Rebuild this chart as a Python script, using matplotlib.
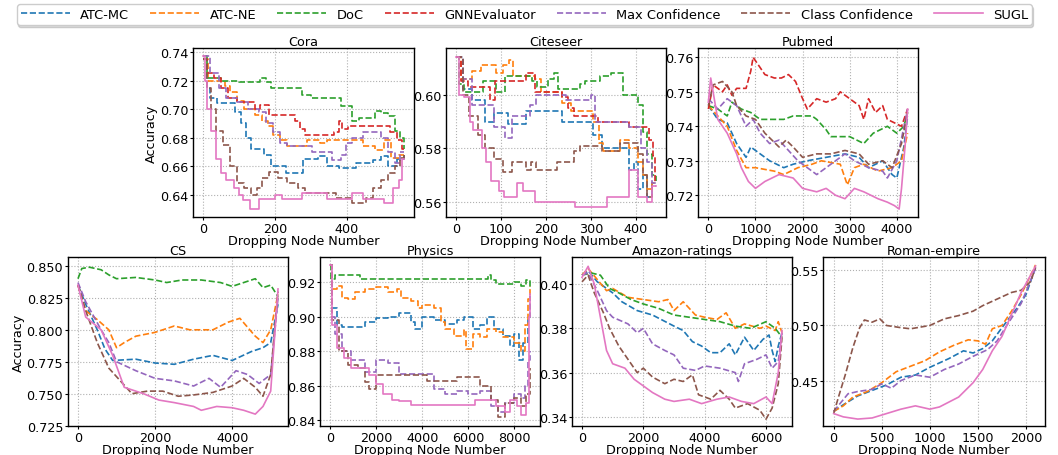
import matplotlib
matplotlib.use("Agg")
import matplotlib.pyplot as plt
from matplotlib.ticker import MultipleLocator

plt.rcParams['font.family'] = ['DejaVu Sans']

methods = ["ATC-MC", "ATC-NE", "DoC", "GNNEvaluator", "Max Confidence", "Class Confidence", "SUGL"]
colors = ["#1f77b4", "#ff7f0e", "#2ca02c", "#d62728", "#9467bd", "#8c564b", "#e377c2"]

# ---------------- Cora ----------------
cora_atc_mc = [(0, .735), (10, .715), (20, .708), (40, .704), (90, .698), (105, .690), (120, .680), (135, .672), (170, .668), (190, .660), (230, .655), (280, .665), (320, .667), (345, .660), (380, .659), (425, .662), (475, .664), (495, .667), (515, .660), (540, .665), (560, .668)]
cora_atc_ne = [(0, .735), (15, .720), (60, .716), (75, .712), (95, .706), (115, .700), (145, .696), (165, .692), (180, .688), (195, .682), (215, .678), (235, .674), (290, .678), (325, .676), (345, .678), (445, .674), (480, .671), (505, .678), (525, .666), (545, .668), (560, .668)]
cora_doc = [(0, .737), (10, .722), (50, .720), (100, .719), (160, .722), (175, .719), (190, .715), (275, .710), (300, .708), (385, .702), (415, .692), (435, .694), (480, .699), (495, .697), (515, .695), (535, .685), (550, .680), (560, .672)]
cora_gnn = [(0, .735), (10, .725), (30, .722), (50, .715), (70, .708), (95, .705), (145, .700), (160, .703), (185, .696), (255, .692), (270, .686), (285, .682), (365, .684), (378, .692), (388, .686), (405, .688), (520, .684), (540, .678), (555, .672), (560, .672)]
cora_max = [(0, .737), (20, .725), (45, .715), (65, .708), (95, .705), (125, .700), (155, .698), (175, .690), (195, .684), (215, .676), (235, .674), (305, .670), (360, .664), (385, .668), (398, .676), (415, .680), (445, .684), (495, .680), (515, .670), (535, .662), (550, .670), (560, .670)]
cora_class = [(0, .735), (12, .715), (22, .700), (35, .685), (55, .675), (75, .660), (95, .648), (115, .645), (135, .640), (150, .645), (165, .652), (185, .656), (210, .652), (235, .648), (265, .645), (285, .641), (370, .638), (415, .634), (455, .638), (475, .645), (495, .650), (515, .655), (535, .660), (550, .666), (560, .668)]
cora_sugl = [(0, .737), (5, .720), (12, .700), (22, .685), (35, .665), (50, .655), (65, .650), (85, .645), (100, .640), (110, .636), (130, .630), (155, .637), (200, .640), (220, .637), (275, .641), (345, .637), (415, .641), (445, .637), (505, .634), (530, .645), (545, .650), (555, .665), (560, .665)]

# ---------------- Citeseer ----------------
cite_atc_mc = [(0, .614), (15, .602), (35, .598), (65, .590), (85, .593), (115, .589), (155, .594), (235, .590), (305, .585), (325, .580), (385, .572), (395, .575), (405, .565), (415, .570), (425, .562), (435, .567), (445, .567)]
cite_atc_ne = [(0, .614), (12, .606), (35, .609), (55, .611), (90, .608), (105, .611), (118, .613), (128, .607), (175, .606), (190, .601), (235, .597), (255, .594), (305, .590), (318, .582), (328, .579), (365, .583), (385, .580), (405, .575), (415, .570), (425, .565), (435, .567), (445, .567)]
cite_doc = [(0, .614), (8, .604), (18, .601), (60, .605), (90, .601), (110, .607), (170, .605), (180, .603), (205, .606), (218, .608), (228, .602), (275, .604), (288, .605), (320, .607), (345, .608), (372, .600), (405, .596), (415, .586), (425, .578), (435, .570), (445, .568)]
cite_gnn = [(0, .614), (12, .605), (28, .603), (75, .598), (88, .605), (155, .608), (175, .601), (235, .599), (250, .595), (262, .592), (315, .590), (385, .588), (430, .583), (437, .577), (442, .567), (445, .567)]
cite_max = [(0, .614), (15, .606), (35, .596), (85, .588), (110, .584), (125, .592), (165, .596), (178, .600), (245, .598), (300, .600), (310, .590), (385, .588), (412, .580), (425, .575), (435, .567), (445, .567)]
cite_class = [(0, .614), (15, .600), (30, .592), (50, .585), (65, .580), (85, .576), (105, .571), (125, .575), (155, .572), (168, .575), (178, .572), (225, .575), (262, .579), (275, .581), (325, .579), (365, .582), (405, .578), (415, .570), (425, .562), (435, .566), (445, .566)]
cite_sugl = [(0, .614), (8, .600), (18, .599), (32, .590), (38, .587), (58, .580), (68, .575), (78, .568), (95, .564), (108, .562), (135, .567), (150, .564), (175, .560), (265, .558), (335, .562), (385, .572), (405, .562), (425, .560), (435, .566), (445, .566)]

# ---------------- Pubmed ----------------
pub_atc_mc = [(0, .746), (200, .742), (400, .741), (600, .735), (800, .731), (900, .734), (1100, .732), (1300, .730), (1600, .728), (1800, .729), (2100, .730), (2500, .731), (2900, .732), (3200, .731), (3400, .728), (3700, .730), (3900, .726), (4000, .725), (4150, .734), (4230, .743)]
pub_atc_ne = [(0, .746), (200, .743), (400, .740), (600, .733), (800, .728), (1000, .728), (1400, .727), (1600, .726), (1900, .728), (2200, .729), (2400, .730), (2800, .729), (2950, .723), (3100, .728), (3300, .729), (3600, .727), (3900, .728), (4100, .730), (4230, .738)]
pub_doc = [(0, .746), (200, .745), (400, .743), (500, .747), (700, .745), (900, .744), (1100, .742), (1600, .742), (1800, .743), (2200, .743), (2300, .742), (2500, .739), (2600, .737), (3000, .737), (3300, .735), (3500, .738), (3800, .740), (4000, .738), (4150, .740), (4230, .744)]
pub_gnn = [(0, .745), (100, .752), (300, .750), (400, .752), (500, .749), (600, .751), (800, .751), (900, .756), (950, .760), (1050, .758), (1200, .755), (1400, .754), (1550, .754), (1700, .755), (1850, .753), (2000, .748), (2100, .745), (2300, .748), (2500, .747), (2700, .748), (2800, .750), (3000, .748), (3200, .746), (3300, .742), (3400, .748), (3550, .744), (3700, .746), (3800, .742), (3950, .741), (4100, .740), (4230, .745)]
pub_max = [(0, .748), (200, .745), (400, .748), (600, .746), (800, .740), (950, .742), (1100, .738), (1300, .735), (1500, .736), (1700, .733), (1900, .730), (2100, .728), (2300, .726), (2500, .728), (2700, .730), (2900, .732), (3100, .730), (3400, .728), (3700, .727), (3800, .725), (4000, .730), (4230, .745)]
pub_class = [(0, .746), (100, .752), (300, .753), (500, .750), (600, .746), (800, .743), (1000, .742), (1200, .738), (1500, .734), (1650, .736), (1800, .734), (2000, .731), (2300, .732), (2600, .732), (2900, .733), (3200, .732), (3400, .729), (3700, .730), (3900, .728), (4100, .735), (4230, .744)]
pub_sugl = [(0, .747), (50, .754), (200, .742), (400, .738), (600, .732), (700, .728), (850, .724), (1000, .722), (1200, .724), (1500, .726), (1800, .725), (2000, .722), (2300, .721), (2500, .722), (2700, .720), (2900, .719), (3100, .722), (3300, .721), (3600, .719), (3800, .718), (3950, .717), (4050, .716), (4100, .722), (4180, .735), (4230, .745)]

# ---------------- CS ----------------
cs_atc_mc = [(0, .835), (200, .820), (500, .800), (700, .785), (900, .776), (1500, .777), (2000, .774), (2500, .773), (3000, .777), (3500, .780), (4000, .776), (4500, .783), (4800, .786), (5000, .790), (5190, .820)]
cs_atc_ne = [(0, .835), (200, .815), (500, .808), (800, .800), (1000, .786), (1200, .790), (1500, .795), (2000, .798), (2500, .803), (2900, .800), (3500, .800), (3900, .806), (4200, .809), (4600, .795), (4800, .790), (5000, .800), (5190, .828)]
cs_doc = [(0, .840), (100, .848), (300, .849), (600, .847), (800, .843), (1000, .840), (1500, .841), (2000, .839), (2300, .837), (2700, .839), (3200, .839), (3700, .837), (4000, .834), (4300, .837), (4600, .840), (4800, .833), (5000, .835), (5190, .826)]
cs_max = [(0, .837), (200, .822), (600, .800), (800, .790), (1000, .775), (1500, .768), (2000, .762), (2500, .760), (3000, .756), (3400, .762), (3700, .755), (4100, .768), (4400, .765), (4700, .758), (5000, .765), (5190, .825)]
cs_class = [(0, .835), (200, .815), (500, .790), (800, .770), (1100, .760), (1400, .750), (1800, .752), (2200, .752), (2600, .748), (3000, .749), (3500, .751), (4000, .756), (4300, .762), (4600, .755), (4800, .748), (5000, .765), (5190, .830)]
cs_sugl = [(0, .835), (200, .810), (600, .800), (900, .780), (1200, .755), (1700, .750), (2100, .745), (2500, .743), (3000, .740), (3200, .737), (3600, .740), (4000, .739), (4300, .737), (4600, .734), (4800, .740), (5000, .752), (5190, .832)]

# ---------------- Physics ----------------
phy_atc_mc = [(0, .930), (100, .905), (300, .895), (500, .894), (1200, .894), (1500, .897), (2000, .899), (2500, .900), (3000, .902), (3500, .897), (3700, .893), (4000, .900), (4500, .898), (5000, .896), (5500, .898), (5800, .900), (6200, .893), (6500, .895), (6800, .900), (7100, .893), (7500, .889), (7800, .883), (8000, .890), (8200, .875), (8400, .885), (8600, .900), (8683, .912)]
phy_atc_ne = [(0, .930), (100, .916), (300, .918), (500, .911), (800, .910), (1100, .914), (1500, .916), (2000, .917), (2500, .914), (2900, .916), (3100, .911), (3500, .909), (3800, .905), (4000, .907), (4500, .905), (4800, .897), (5000, .893), (5400, .889), (5800, .892), (5900, .881), (6200, .890), (6500, .888), (6800, .893), (7200, .891), (7500, .888), (8000, .885), (8300, .880), (8450, .895), (8600, .910), (8683, .918)]
phy_doc = [(0, .930), (50, .922), (200, .924), (1200, .924), (1300, .922), (6800, .922), (6850, .924), (7000, .921), (7200, .919), (7800, .919), (8000, .920), (8300, .918), (8500, .921), (8683, .917)]
phy_max = [(0, .930), (100, .900), (200, .890), (500, .880), (900, .875), (1500, .868), (2000, .875), (2500, .873), (3000, .867), (4000, .867), (4500, .858), (5000, .855), (5500, .857), (6000, .855), (6500, .857), (7000, .848), (7300, .845), (7600, .850), (8000, .855), (8300, .853), (8450, .860), (8600, .875), (8683, .880)]
phy_class = [(0, .930), (100, .898), (400, .880), (800, .872), (1200, .870), (1500, .862), (1700, .858), (2000, .866), (4000, .866), (4200, .863), (5000, .863), (5500, .865), (6000, .865), (6500, .860), (7000, .852), (7300, .842), (7600, .850), (8000, .853), (8300, .848), (8500, .855), (8683, .870)]
phy_sugl = [(0, .930), (100, .895), (300, .882), (600, .876), (900, .870), (1200, .870), (1700, .866), (2000, .861), (2300, .855), (2700, .852), (3000, .851), (3500, .849), (6000, .849), (6300, .852), (7000, .852), (7200, .848), (7600, .845), (7800, .852), (8100, .848), (8300, .843), (8500, .850), (8620, .900), (8683, .913)]

# ---------------- Amazon-ratings ----------------
ama_atc_mc = [(0, .404), (200, .406), (500, .401), (1000, .396), (1300, .392), (1800, .388), (2300, .386), (3000, .381), (3300, .379), (3600, .374), (3900, .372), (4200, .369), (4500, .369), (4800, .373), (5000, .368), (5300, .376), (5600, .370), (5900, .375), (6100, .377), (6200, .370), (6300, .365), (6400, .372), (6522, .378)]
ama_atc_ne = [(0, .404), (200, .407), (500, .402), (800, .397), (1000, .398), (1500, .394), (2000, .393), (2500, .392), (2800, .393), (3000, .388), (3300, .392), (3700, .386), (4000, .385), (4400, .384), (4700, .387), (5000, .380), (5300, .382), (5800, .380), (6000, .381), (6300, .379), (6400, .383), (6522, .378)]
ama_doc = [(0, .404), (300, .405), (600, .404), (900, .398), (1200, .396), (1600, .393), (2000, .391), (2500, .389), (3000, .386), (3500, .385), (4000, .384), (4500, .383), (5000, .381), (5500, .380), (6000, .383), (6300, .380), (6522, .376)]
ama_max = [(0, .404), (200, .405), (500, .397), (800, .388), (1000, .385), (1500, .382), (1800, .378), (2000, .380), (2300, .373), (2700, .370), (3000, .368), (3300, .362), (3700, .361), (4000, .363), (4500, .362), (5000, .360), (5100, .356), (5300, .364), (5700, .366), (6000, .368), (6200, .362), (6400, .365), (6522, .378)]
ama_class = [(0, .401), (200, .404), (400, .396), (700, .387), (900, .380), (1200, .372), (1500, .366), (1800, .360), (2000, .362), (2300, .358), (2700, .355), (3000, .357), (3300, .356), (3600, .359), (3800, .350), (4200, .348), (4500, .352), (4800, .348), (5000, .344), (5400, .346), (5800, .343), (6000, .339), (6200, .344), (6400, .355), (6522, .376)]
ama_sugl = [(0, .403), (200, .408), (400, .400), (600, .385), (800, .370), (1000, .364), (1400, .362), (1700, .357), (2000, .354), (2300, .351), (2700, .348), (3000, .347), (3500, .348), (3900, .346), (4400, .348), (4800, .349), (5200, .347), (5600, .346), (6000, .349), (6200, .346), (6400, .360), (6522, .379)]

# ---------------- Roman-empire ----------------
rom_atc_mc = [(0, .422), (100, .428), (250, .436), (400, .441), (550, .446), (700, .453), (850, .455), (1000, .462), (1200, .470), (1350, .477), (1450, .475), (1550, .479), (1650, .486), (1750, .498), (1900, .515), (2000, .528), (2100, .553)]
rom_atc_ne = [(0, .422), (100, .427), (200, .435), (350, .440), (500, .448), (650, .458), (800, .463), (950, .468), (1100, .476), (1250, .482), (1400, .487), (1500, .486), (1580, .483), (1650, .497), (1750, .500), (1850, .513), (1950, .528), (2100, .555)]
rom_max = [(0, .422), (150, .438), (250, .440), (400, .442), (500, .447), (600, .443), (700, .450), (850, .455), (1000, .453), (1150, .460), (1300, .465), (1450, .472), (1600, .478), (1700, .486), (1800, .500), (1950, .520), (2100, .552)]
rom_class = [(0, .420), (50, .435), (120, .455), (200, .480), (270, .498), (320, .505), (400, .503), (480, .506), (550, .500), (700, .498), (800, .497), (1000, .500), (1150, .506), (1300, .509), (1450, .513), (1550, .518), (1650, .522), (1750, .526), (1850, .530), (1950, .532), (2050, .540), (2100, .553)]
rom_sugl = [(0, .420), (100, .417), (250, .415), (400, .416), (550, .420), (700, .424), (850, .427), (1000, .424), (1100, .426), (1300, .435), (1450, .448), (1550, .460), (1650, .477), (1750, .490), (1850, .510), (1950, .530), (2100, .554)]

panels = [
    dict(title="Cora", series={0: cora_atc_mc, 1: cora_atc_ne, 2: cora_doc, 3: cora_gnn, 4: cora_max, 5: cora_class, 6: cora_sugl},
         rect=[193, 49, 221, 169], xlim=(-28, 588), ylim=(0.6244, 0.7428), xt=200, yt=0.02, step=True, ylabel=True),
    dict(title="Citeseer", series={0: cite_atc_mc, 1: cite_atc_ne, 2: cite_doc, 3: cite_gnn, 4: cite_max, 5: cite_class, 6: cite_sugl},
         rect=[446, 49, 220, 169], xlim=(-22, 467), ylim=(0.5544, 0.6174), xt=100, yt=0.02, step=True, ylabel=False),
    dict(title="Pubmed", series={0: pub_atc_mc, 1: pub_atc_ne, 2: pub_doc, 3: pub_gnn, 4: pub_max, 5: pub_class, 6: pub_sugl},
         rect=[698, 49, 220, 169], xlim=(-220, 4450), ylim=(0.7137, 0.7627), xt=1000, yt=0.01, step=False, ylabel=False),
    dict(title="CS", series={0: cs_atc_mc, 1: cs_atc_ne, 2: cs_doc, 4: cs_max, 5: cs_class, 6: cs_sugl},
         rect=[68, 258, 220, 169], xlim=(-259, 5449), ylim=(0.7247, 0.857), xt=2000, yt=0.025, step=False, ylabel=True),
    dict(title="Physics", series={0: phy_atc_mc, 1: phy_atc_ne, 2: phy_doc, 4: phy_max, 5: phy_class, 6: phy_sugl},
         rect=[320, 258, 220, 169], xlim=(-434, 9117), ylim=(0.8367, 0.9345), xt=2000, yt=0.02, step=True, ylabel=False),
    dict(title="Amazon-ratings", series={0: ama_atc_mc, 1: ama_atc_ne, 2: ama_doc, 4: ama_max, 5: ama_class, 6: ama_sugl},
         rect=[572, 258, 220, 169], xlim=(-326, 6848), ylim=(0.3359, 0.4122), xt=2000, yt=0.02, step=False, ylabel=False),
    dict(title="Roman-empire", series={0: rom_atc_mc, 1: rom_atc_ne, 4: rom_max, 5: rom_class, 6: rom_sugl},
         rect=[823, 258, 222, 169], xlim=(-111, 2198), ylim=(0.4087, 0.5622), xt=500, yt=0.05, step=False, ylabel=False),
]

W, H = 1058, 456
fig = plt.figure(figsize=(W / 100, H / 100), dpi=100)
FS = 9.2

handles = {}
for p in panels:
    l, t, w, h = p["rect"]
    ax = fig.add_axes([l / W, 1 - (t + h) / H, w / W, h / H])
    for i, pts in p["series"].items():
        xs = [a for a, b in pts]
        ys = [b for a, b in pts]
        ls = '-' if i == 6 else '--'
        ln, = ax.plot(xs, ys, ls, color=colors[i], lw=1.2,
                      drawstyle='steps-post' if p["step"] else 'default', label=methods[i])
        handles.setdefault(i, ln)
    ax.set_xlim(*p["xlim"])
    ax.set_ylim(*p["ylim"])
    ax.xaxis.set_major_locator(MultipleLocator(p["xt"]))
    ax.yaxis.set_major_locator(MultipleLocator(p["yt"]))
    ax.grid(True, linestyle=':', color='#b0b0b0', lw=0.8)
    ax.tick_params(labelsize=FS, length=2.5, pad=1)
    ax.set_title(p["title"], fontsize=FS, pad=2)
    ax.set_xlabel("Dropping Node Number", fontsize=FS, labelpad=-0.5)
    if p["ylabel"]:
        ax.set_ylabel("Accuracy", fontsize=FS, labelpad=1)
    for s in ax.spines.values():
        s.set_color('black')
        s.set_linewidth(1.0)

hs = [handles[i] for i in range(7)]
fig.legend(hs, methods, loc='upper left', bbox_to_anchor=(17 / W, 1 - 5 / H), ncol=7,
           fontsize=9.4, handlelength=3.75, handletextpad=0.8, columnspacing=1.6,
           frameon=True, borderaxespad=0, borderpad=0.3,
           shadow={'ox': 1, 'oy': -2, 'alpha': 0.2})

fig.savefig("out.png", dpi=100)
